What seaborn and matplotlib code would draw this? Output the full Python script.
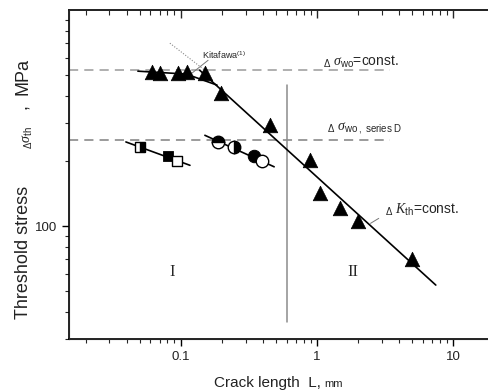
import matplotlib
matplotlib.use("Agg")
import matplotlib.pyplot as plt
import seaborn as sns
from matplotlib.ticker import LogLocator, NullFormatter, FixedLocator, FixedFormatter

# ---------------- data ----------------
tri_L = [0.0615, 0.0703, 0.0953, 0.111, 0.151, 0.197, 0.452, 0.888, 1.05, 1.49, 1.99, 5.01]
tri_S = [515, 510, 510, 515, 510, 412, 293, 202, 142, 121, 106, 70.4]

sq_half_L, sq_half_S = [0.0502], [232.6]
sq_fill_L, sq_fill_S = [0.0801], [211]
sq_open_L, sq_open_S = [0.0943], [200.4]

ci_top_L, ci_top_S = [0.1885], [245]
ci_left_L, ci_left_S = [0.247], [231]
ci_fill_L, ci_fill_S = [0.347], [211]
ci_open_L, ci_open_S = [0.399], [200]

sq_fit_L, sq_fit_S = [0.0396, 0.117], [245, 191]
ci_fit_L, ci_fit_S = [0.1506, 0.486], [263, 188]
kth_L, kth_S = [0.138, 7.48], [526, 53.3]
plateau_L, plateau_S = [0.0485, 0.11, 0.185], [521, 505, 449]
kita_L, kita_S = [0.0833, 0.1506], [702, 526]

dash_L = [0.015, 3.44]
sigma_wo = 526
sigma_wo_D = 250
region_split_L = 0.6
region_split_S = [36, 449]

xticks = [0.1, 1, 10]
xticklabels = ["0.1", "1", "10"]
yticks = [100]
yticklabels = ["100"]

# ---------------- styling ----------------
sns.set_style("ticks")
plt.rcParams["font.family"] = ["Liberation Sans", "DejaVu Sans"]
plt.rcParams["mathtext.fontset"] = "custom"
plt.rcParams["mathtext.rm"] = "Liberation Sans"
plt.rcParams["mathtext.it"] = "Liberation Serif:italic"
plt.rcParams["mathtext.sf"] = "Liberation Sans"

fig = plt.figure(figsize=(4.89, 3.9), dpi=100)
ax = fig.add_axes([0.1401, 0.1308, 0.870, 0.8436])
ax.set_xscale("log")
ax.set_yscale("log")
ax.set_xlim(0.015, 20)
ax.set_ylim(30, 1000)

gray = "#9a9a9a"
# reference lines
ax.plot(dash_L, [sigma_wo, sigma_wo], ls=(0, (6, 4)), color=gray, lw=1.1, zorder=1)
ax.plot(dash_L, [sigma_wo_D, sigma_wo_D], ls=(0, (6, 4)), color="#808080", lw=1.1, zorder=1)
ax.plot([region_split_L, region_split_L], region_split_S, color="#8c8c8c", lw=1.1, zorder=1)
ax.plot(kita_L, kita_S, ls=(0, (1, 1.5)), color="#888888", lw=0.8, zorder=1)

# fitted lines via seaborn
for L, S in [(sq_fit_L, sq_fit_S), (ci_fit_L, ci_fit_S), (kth_L, kth_S), (plateau_L, plateau_S)]:
    sns.lineplot(x=L, y=S, ax=ax, color="black", lw=1.2, sort=False, estimator=None, zorder=2)

# markers
sns.scatterplot(x=tri_L, y=tri_S, ax=ax, marker="^", s=110, color="black",
                edgecolor="black", linewidth=0.5, zorder=3)
sns.scatterplot(x=sq_fill_L, y=sq_fill_S, ax=ax, marker="s", s=55, color="black",
                edgecolor="black", zorder=3)
sns.scatterplot(x=sq_open_L, y=sq_open_S, ax=ax, marker="s", s=55, color="white",
                edgecolor="black", linewidth=1.0, zorder=3)
sns.scatterplot(x=ci_fill_L, y=ci_fill_S, ax=ax, marker="o", s=80, color="black",
                edgecolor="black", zorder=3)
sns.scatterplot(x=ci_open_L, y=ci_open_S, ax=ax, marker="o", s=80, color="white",
                edgecolor="black", linewidth=1.0, zorder=3)
ax.plot(sq_half_L, sq_half_S, marker="s", ms=7.5, ls="none", fillstyle="right",
        markerfacecolor="black", markerfacecoloralt="white", markeredgecolor="black",
        markeredgewidth=1.0, zorder=3)
ax.plot(ci_top_L, ci_top_S, marker="o", ms=9, ls="none", fillstyle="top",
        markerfacecolor="black", markerfacecoloralt="white", markeredgecolor="black",
        markeredgewidth=1.0, zorder=3)
ax.plot(ci_left_L, ci_left_S, marker="o", ms=9, ls="none", fillstyle="right",
        markerfacecolor="black", markerfacecoloralt="white", markeredgecolor="black",
        markeredgewidth=1.0, zorder=3)

# annotations
ax.text(0.1423, 617, r"Kitafawa$^{(1)}$", fontsize=6.5, va="center", ha="left")
ax.plot([0.159, 0.120], [585, 508], color="#777777", lw=0.7)
ax.text(1.107, 573, r"$_{\Delta}\ \sigma_{\mathrm{wo}}$=const.", fontsize=10, va="center", ha="left")
ax.text(1.184, 284, r"$_{\Delta}\ \sigma_{\mathrm{wo\ ,\ series\ D}}$", fontsize=10, va="center", ha="left")
ax.text(3.16, 118.6, r"$_{\Delta}\ \mathit{K}_{\mathrm{th}}$=const.", fontsize=10, va="center", ha="left")
ax.plot([2.85, 2.48], [108.5, 102.9], color="#777777", lw=0.7)
ax.text(0.0862, 61.3, "I", fontsize=12, family="Liberation Serif", ha="center", va="center")
ax.text(1.84, 61.3, "II", fontsize=12, family="Liberation Serif", ha="center", va="center")

# axes ticks
ax.xaxis.set_major_locator(FixedLocator(xticks))
ax.xaxis.set_major_formatter(FixedFormatter(xticklabels))
ax.xaxis.set_minor_locator(LogLocator(base=10, subs=range(2, 10)))
ax.xaxis.set_minor_formatter(NullFormatter())
ax.yaxis.set_major_locator(FixedLocator(yticks))
ax.yaxis.set_major_formatter(FixedFormatter(yticklabels))
ax.yaxis.set_minor_locator(LogLocator(base=10, subs=range(2, 10)))
ax.yaxis.set_minor_formatter(NullFormatter())
ax.tick_params(which="major", direction="out", length=5, width=1.0, labelsize=9.5,
               colors="black", labelcolor="#222222")
ax.tick_params(which="minor", direction="out", length=3, width=0.8)
for sp in ax.spines.values():
    sp.set_linewidth(1.2)
    sp.set_color("black")

ax2 = ax.twiny()
ax2.set_xscale("log")
ax2.set_xlim(ax.get_xlim())
ax2.xaxis.set_major_locator(FixedLocator(xticks))
ax2.xaxis.set_minor_locator(LogLocator(base=10, subs=range(2, 10)))
ax2.xaxis.set_major_formatter(NullFormatter())
ax2.xaxis.set_minor_formatter(NullFormatter())
ax2.tick_params(which="major", direction="in", length=6, width=1.0)
ax2.tick_params(which="minor", direction="in", length=3.5, width=0.8)
ax2.spines["top"].set_linewidth(1.2)

# axis labels
ax.set_xlabel("")
ax.set_ylabel("")
fig.text(0.657, 0.018, "Crack length  L,", fontsize=11, ha="right", va="center", color="#222222")
fig.text(0.664, 0.016, "mm", fontsize=8, ha="left", va="center", color="#222222")
fig.text(0.048, 0.354, "Threshold stress", fontsize=13, rotation=90, ha="center", va="center", color="#222222")
fig.text(0.058, 0.649, r"$_{\Delta}\sigma_{\mathrm{th}}$", fontsize=10, rotation=90, ha="center", va="center", color="#222222")
fig.text(0.046, 0.726, ",", fontsize=13, rotation=90, ha="center", va="center", color="#222222")
fig.text(0.048, 0.803, "MPa", fontsize=13, rotation=90, ha="center", va="center", color="#222222")

fig.savefig("out.png", dpi=100)
